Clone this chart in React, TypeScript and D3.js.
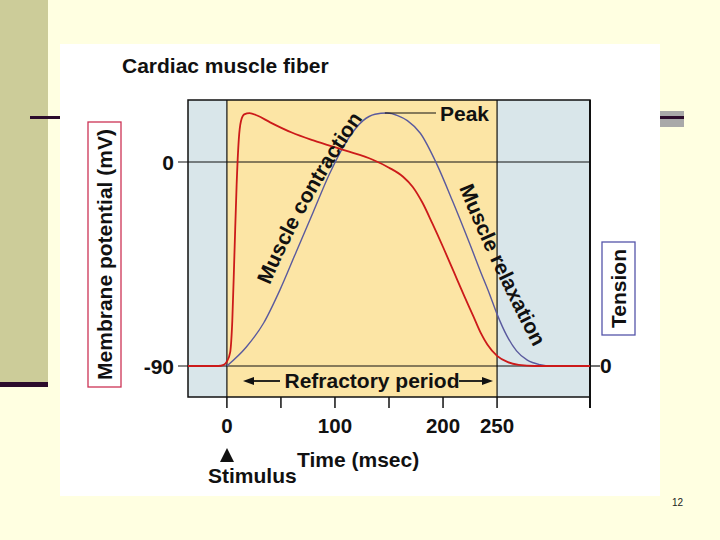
import React from "react";
import * as d3 from "d3";

// ---- data ----
// Membrane potential (mV) over time (msec)
const potentialTime = [-36, -8, -3, 0, 3, 5, 7, 9, 11, 13, 16, 21, 28, 40, 60, 80, 110, 135, 150, 163, 172, 181, 190, 200, 210, 220, 228, 235, 241, 250, 260, 270, 285, 336];
const potentialMv = [-90, -90, -89.5, -88, -84, -70, -40, -10, 10, 18, 21, 21.6, 20.5, 17.5, 13, 9.5, 5, 1, -2.5, -6.5, -11, -18, -27, -37.5, -48.5, -59.5, -68, -75.5, -80.5, -85.5, -88.3, -89.5, -90, -90];

// Muscle tension (% of peak) over time (msec)
const tensionTime = [0, 18, 34, 49, 64, 80, 95, 111, 126, 137, 148, 158, 167, 179, 194, 209, 225, 235, 243, 250, 259, 268, 278, 290, 300, 336];
const tensionPct = [0, 7.5, 17, 30, 45, 61, 76, 89, 97, 99.5, 100, 99, 97, 92, 80, 65, 48, 37, 28.5, 20.5, 12, 6, 2.3, 0.5, 0, 0];

const timeTicks = [0, 50, 100, 150, 200, 250, 336];
const timeTickLabels = ["0", "", "100", "", "200", "250", ""];
const mvTicks = [0, -90];
const tensionTicks = [0];

const refractoryStart = 0;
const refractoryEnd = 250;
const peakTime = 148;

const FONT = "'Liberation Sans', Arial, Helvetica, sans-serif";

export default function App() {
  const x = d3.scaleLinear().domain([-36, 336]).range([188, 590]);
  const y = d3.scaleLinear().domain([-90, 0]).range([366, 162]);
  const yT = d3.scaleLinear().domain([0, 100]).range([366, 113]);

  const top = 100;
  const bottom = 397;

  const potLine = d3
    .line<number>()
    .x((_, i) => x(potentialTime[i]))
    .y((v) => y(v))
    .curve(d3.curveMonotoneX);

  const tenLine = d3
    .line<number>()
    .x((_, i) => x(tensionTime[i]))
    .y((v) => yT(v))
    .curve(d3.curveMonotoneX);

  const x0 = x(-36);
  const x1 = x(336);

  return (
    <svg
      width={720}
      height={540}
      style={{ position: "absolute", left: 0, top: 0 }}
      fontFamily={FONT}
    >
      <defs>
        <path id="contractionPath" d="M270,285 Q303,205 366,114" />
        <path id="relaxationPath" d="M459,188 Q489,262 535,350" />
      </defs>
      {/* slide background */}
      <rect x={0} y={0} width={720} height={540} fill="#FFFFE1" />
      <rect x={0} y={0} width={48} height={382} fill="#CCCC99" />
      <rect x={0} y={382} width={48} height={5} fill="#2C0C2C" />
      <rect x={30} y={116} width={40} height={3} fill="#2C0C2C" />
      <rect x={660} y={111} width={24} height={16} fill="#A9A9A9" />
      <rect x={660} y={116} width={24} height={3} fill="#2C0C2C" />
      <rect x={60} y={44} width={600} height={452} fill="#FFFFFF" />
      <text x={672} y={506} fontSize={10} fill="#222">12</text>

      {/* title */}
      <text x={122} y={73} fontSize={21} fontWeight="bold" fill="#111">
        Cardiac muscle fiber
      </text>

      {/* plot background */}
      <rect x={x0} y={top} width={x1 - x0} height={bottom - top} fill="#D9E6EA" />
      <rect
        x={x(refractoryStart)}
        y={top}
        width={x(refractoryEnd) - x(refractoryStart)}
        height={bottom - top}
        fill="#FCE5A5"
      />

      {/* grid / frame */}
      {mvTicks.map((v) => (
        <line key={"h" + v} x1={178} x2={x1} y1={y(v)} y2={y(v)} stroke="#111" strokeWidth={1.2} />
      ))}
      {mvTicks.map((v) => (
        <text
          key={"l" + v}
          x={174}
          y={y(v) + 8}
          fontSize={21}
          fontWeight="bold"
          textAnchor="end"
          fill="#111"
        >
          {v}
        </text>
      ))}
      {tensionTicks.map((v) => (
        <g key={"t" + v}>
          <line x1={x1} x2={600} y1={yT(v)} y2={yT(v)} stroke="#111" strokeWidth={1.2} />
          <text x={600} y={yT(v) + 7} fontSize={21} fontWeight="bold" fill="#111">
            {v}
          </text>
        </g>
      ))}
      <line x1={x(refractoryStart)} x2={x(refractoryStart)} y1={top} y2={bottom} stroke="#111" strokeWidth={1.2} />
      <line x1={x(refractoryEnd)} x2={x(refractoryEnd)} y1={top} y2={bottom} stroke="#111" strokeWidth={1.2} />
      <rect x={x0} y={top} width={x1 - x0} height={bottom - top} fill="none" stroke="#111" strokeWidth={1.5} />
      <line x1={x1} x2={x1} y1={top} y2={408} stroke="#111" strokeWidth={2} />

      {/* bottom ticks */}
      {timeTicks.map((t, i) => (
        <g key={"bt" + t}>
          <line x1={x(t)} x2={x(t)} y1={bottom} y2={408} stroke="#111" strokeWidth={1.5} />
          {timeTickLabels[i] && (
            <text x={x(t)} y={433} fontSize={20.5} fontWeight="bold" textAnchor="middle" fill="#111">
              {timeTickLabels[i]}
            </text>
          )}
        </g>
      ))}

      {/* curves */}
      <path d={tenLine(tensionPct) || ""} fill="none" stroke="#5A5A9E" strokeWidth={1.4} />
      <path d={potLine(potentialMv) || ""} fill="none" stroke="#CC1A1A" strokeWidth={1.8} />

      {/* peak annotation */}
      <line x1={x(peakTime) - 2} x2={436} y1={yT(100)} y2={yT(100)} stroke="#111" strokeWidth={1.2} />
      <text x={440} y={121} fontSize={21} fontWeight="bold" fill="#111">
        Peak
      </text>

      {/* curved labels */}
      <text fontSize={21} fontWeight="bold" fill="#111">
        <textPath href="#contractionPath">Muscle contraction</textPath>
      </text>
      <text fontSize={21} fontWeight="bold" fill="#111">
        <textPath href="#relaxationPath">Muscle relaxation</textPath>
      </text>

      {/* refractory period */}
      <text x={372} y={388} fontSize={21} fontWeight="bold" textAnchor="middle" fill="#111">
        Refractory period
      </text>
      <line x1={252} x2={280} y1={381} y2={381} stroke="#111" strokeWidth={1.8} />
      <path d="M243,381 L254,377 L254,385 Z" fill="#111" />
      <line x1={459} x2={484} y1={381} y2={381} stroke="#111" strokeWidth={1.8} />
      <path d="M493,381 L482,377 L482,385 Z" fill="#111" />

      {/* axis labels */}
      <text x={297} y={467} fontSize={21} fontWeight="bold" fill="#111">
        Time (msec)
      </text>
      <path d="M227,448 L220,462 L234,462 Z" fill="#111" />
      <text x={208} y={483} fontSize={21} fontWeight="bold" fill="#111">
        Stimulus
      </text>

      <rect x={88} y={122} width={33} height={265} fill="none" stroke="#CC3355" strokeWidth={1.3} />
      <text
        transform="translate(112,254.5) rotate(-90)"
        fontSize={21}
        fontWeight="bold"
        textAnchor="middle"
        fill="#111"
      >
        Membrane potential (mV)
      </text>

      <rect x={602} y={242} width={33} height={93} fill="none" stroke="#5555AA" strokeWidth={1.3} />
      <text
        transform="translate(626,288.5) rotate(-90)"
        fontSize={21}
        fontWeight="bold"
        textAnchor="middle"
        fill="#111"
      >
        Tension
      </text>
    </svg>
  );
}
